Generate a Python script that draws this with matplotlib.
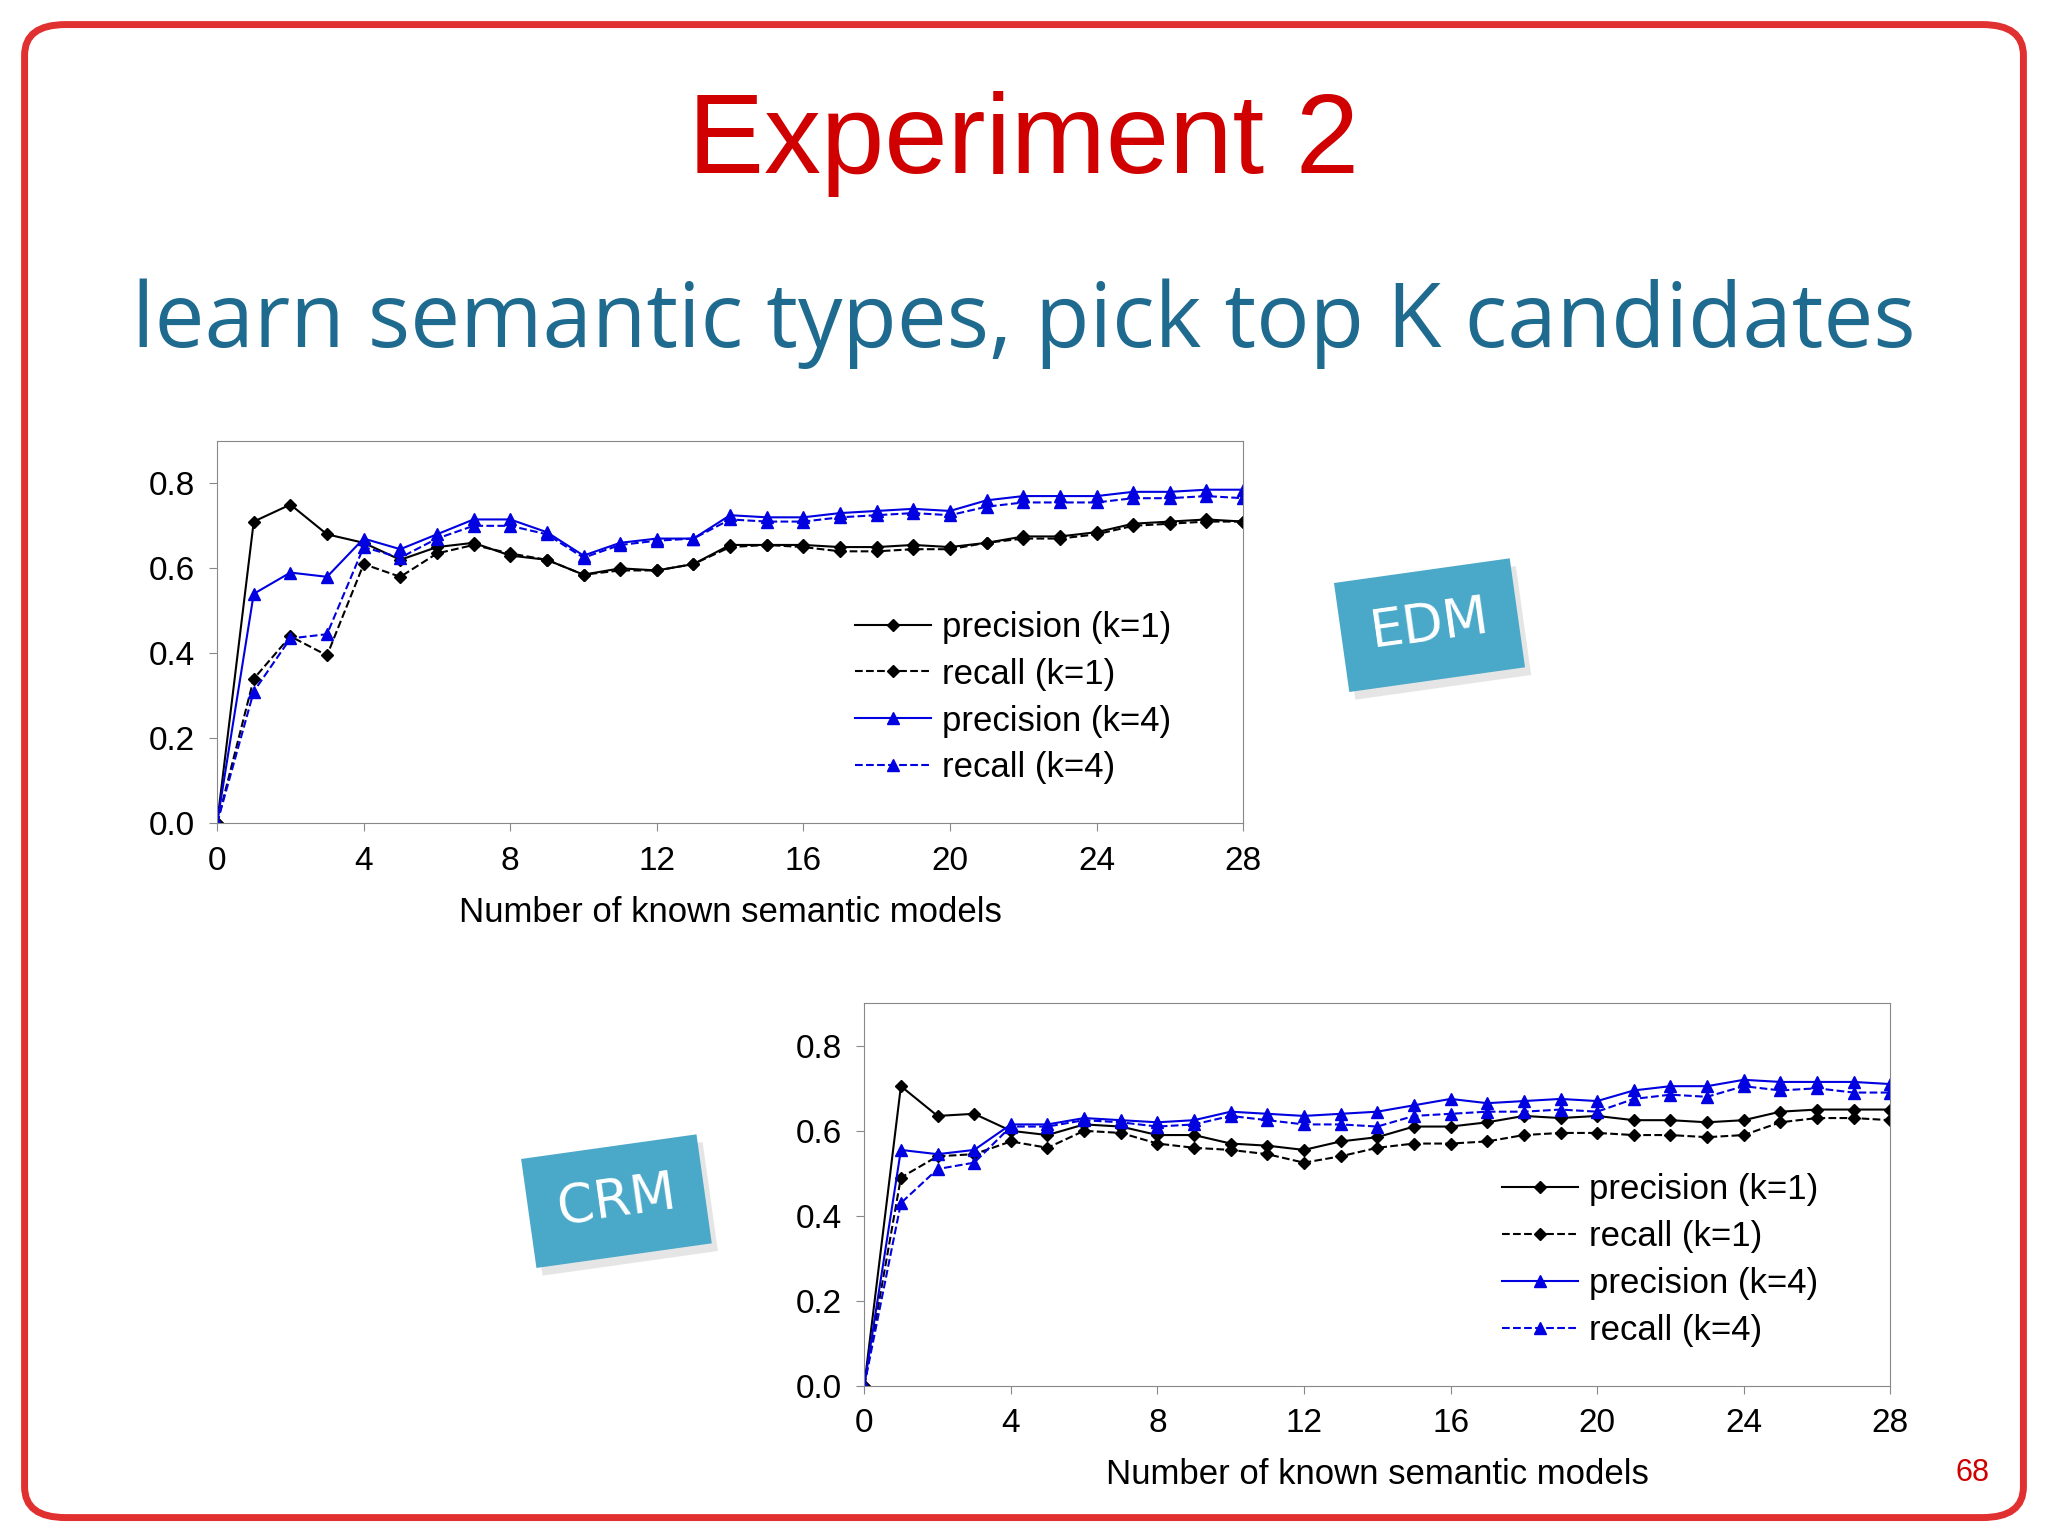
import matplotlib
matplotlib.use("Agg")
import matplotlib.pyplot as plt
from matplotlib.patches import FancyBboxPatch

x = list(range(29))
edm_p1 = [0,0.71,0.75,0.68,0.66,0.62,0.65,0.66,0.63,0.62,0.585,0.60,0.595,0.61,0.655,0.655,0.655,0.65,0.65,0.655,0.65,0.66,0.675,0.675,0.685,0.705,0.71,0.715,0.71]
edm_r1 = [0,0.34,0.44,0.395,0.61,0.58,0.635,0.655,0.635,0.62,0.585,0.595,0.595,0.61,0.65,0.655,0.65,0.64,0.64,0.645,0.645,0.66,0.67,0.67,0.68,0.70,0.705,0.71,0.71]
edm_p4 = [0,0.54,0.59,0.58,0.67,0.645,0.68,0.715,0.715,0.685,0.63,0.66,0.67,0.67,0.725,0.72,0.72,0.73,0.735,0.74,0.735,0.76,0.77,0.77,0.77,0.78,0.78,0.785,0.785]
edm_r4 = [0,0.31,0.435,0.445,0.65,0.625,0.67,0.70,0.70,0.68,0.625,0.655,0.665,0.67,0.715,0.71,0.71,0.72,0.725,0.73,0.725,0.745,0.755,0.755,0.755,0.765,0.765,0.77,0.765]
crm_p1 = [0,0.705,0.635,0.64,0.60,0.59,0.615,0.61,0.59,0.59,0.57,0.565,0.555,0.575,0.585,0.61,0.61,0.62,0.635,0.63,0.635,0.625,0.625,0.62,0.625,0.645,0.65,0.65,0.65]
crm_r1 = [0,0.49,0.54,0.545,0.575,0.56,0.60,0.595,0.57,0.56,0.555,0.545,0.525,0.54,0.56,0.57,0.57,0.575,0.59,0.595,0.595,0.59,0.59,0.585,0.59,0.62,0.63,0.63,0.625]
crm_p4 = [0,0.555,0.545,0.555,0.615,0.615,0.63,0.625,0.62,0.625,0.645,0.64,0.635,0.64,0.645,0.66,0.675,0.665,0.67,0.675,0.67,0.695,0.705,0.705,0.72,0.715,0.715,0.715,0.71]
crm_r4 = [0,0.43,0.51,0.525,0.61,0.61,0.625,0.62,0.61,0.615,0.635,0.625,0.615,0.615,0.61,0.635,0.64,0.645,0.645,0.65,0.645,0.675,0.685,0.68,0.705,0.695,0.70,0.69,0.69]
labels = ["precision (k=1)", "recall (k=1)", "precision (k=4)", "recall (k=4)"]
xticks = [0,4,8,12,16,20,24,28]
yticks = [0.0,0.2,0.4,0.6,0.8]

plt.rcParams["font.family"] = "Liberation Sans"
fig = plt.figure(figsize=(20.48,15.36), dpi=100)
fig.patch.set_facecolor("white")
frame = FancyBboxPatch((0.012,0.012),0.976,0.972, boxstyle="round,pad=0,rounding_size=0.02",
                       transform=fig.transFigure, fill=False, edgecolor="#e03030", linewidth=5)
fig.add_artist(frame)
fig.text(0.50,0.906,"Experiment 2",color="#d00000",fontsize=82,ha="center",va="center")
fig.text(0.50,0.789,"learn semantic types, pick top K candidates",color="#1f6a8f",
         fontsize=64,ha="center",va="center",family="Open Sans")

def panel(rect, p1, r1, p4, r4):
    ax = fig.add_axes(rect)
    ax.plot(x,p1,"-",color="black",marker="D",ms=6,lw=1.5,label=labels[0])
    ax.plot(x,r1,"--",color="black",marker="D",ms=6,lw=1.5,label=labels[1])
    ax.plot(x,p4,"-",color="#0000e0",marker="^",ms=8,lw=1.5,label=labels[2])
    ax.plot(x,r4,"--",color="#0000e0",marker="^",ms=8,lw=1.5,label=labels[3])
    ax.set_xlim(0,28); ax.set_ylim(0,0.9)
    ax.set_xticks(xticks); ax.set_yticks(yticks)
    ax.set_yticklabels([f"{v:.1f}" for v in yticks])
    ax.tick_params(labelsize=24, length=6, direction="out", color="#888888", pad=10)
    for s in ax.spines.values(): s.set_color("#888888")
    ax.set_xlabel("Number of known semantic models", fontsize=25, labelpad=14)
    ax.legend(loc="lower right", bbox_to_anchor=(0.96,0.02), frameon=False, fontsize=25,
              handlelength=2.2, handletextpad=0.3, labelspacing=0.4)
    return ax

panel([0.106,0.464,0.501,0.249], edm_p1, edm_r1, edm_p4, edm_r4)
panel([0.422,0.0978,0.501,0.249], crm_p1, crm_r1, crm_p4, crm_r4)

for (tx,ty,t) in [(0.698,0.593,"EDM"),(0.301,0.218,"CRM")]:
    fig.text(tx+0.003,ty-0.005,t,fontsize=38,color="white",ha="center",va="center",rotation=8,
             family="DejaVu Sans", bbox=dict(boxstyle="square,pad=0.55",fc="#cccccc",ec="none",alpha=0.5))
    fig.text(tx,ty,t,fontsize=38,color="white",ha="center",va="center",rotation=8,
             family="DejaVu Sans", bbox=dict(boxstyle="square,pad=0.55",fc="#4aa8c8",ec="none"))
fig.text(0.963,0.041,"68",color="#d00000",fontsize=22,ha="center",va="center")
fig.savefig("out.png", dpi=100)
